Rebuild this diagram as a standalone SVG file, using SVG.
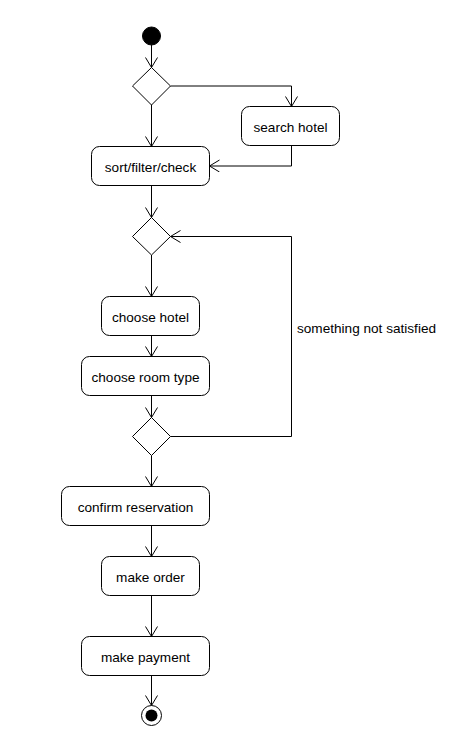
<svg xmlns="http://www.w3.org/2000/svg" width="454" height="749" viewBox="0 0 454 749">
<style>
.act{fill:#fff;stroke:#000;stroke-width:1}
.dec{fill:#fff;stroke:#000;stroke-width:1}
.lbl{font-family:"Liberation Sans",Arial,sans-serif;font-size:13.6px;fill:#000;text-anchor:middle}
.edge{fill:none;stroke:#000;stroke-width:1;marker-end:url(#open)}
</style>
<defs>
<marker id="open" markerWidth="14" markerHeight="14" refX="11" refY="6" orient="auto" markerUnits="userSpaceOnUse">
<path d="M1 0 L11 6 L1 12" fill="none" stroke="#000" stroke-width="1"/>
</marker>
</defs>
<rect width="454" height="749" fill="#fff"/>
<g id="connectors">
<path class="edge" d="M151.5 45 V67.5"/>
<path class="edge" d="M170.5 86 H291.5 V106.5"/>
<path class="edge" d="M151.5 105 V146.5"/>
<path class="edge" d="M291.5 145.5 V166 H209.5"/>
<path class="edge" d="M151.5 185.5 V217.5"/>
<path class="edge" d="M151.5 255 V296.5"/>
<path class="edge" d="M151.5 335.5 V356.5"/>
<path class="edge" d="M151.5 395.5 V417.5"/>
<path class="edge" d="M170.5 436.5 H291.5 V236.5 H170.5"/>
<path class="edge" d="M151.5 455.5 V486.5"/>
<path class="edge" d="M151.5 525.5 V556.5"/>
<path class="edge" d="M151.5 595.5 V636.5"/>
<path class="edge" d="M151.5 675.5 V705.5"/>
<text x="297" y="333" class="lbl" style="text-anchor:start">something not satisfied</text>
</g>
<g id="start"><circle cx="151.5" cy="36" r="9" fill="#000" stroke="#000"/></g>
<g id="decision1"><path class="dec" d="M151.5 67.5 L170.5 86 L151.5 105 L132.5 86 Z"/></g>
<g id="search"><rect class="act" x="241.5" y="106.5" width="98" height="39" rx="8"/><text class="lbl" x="290.5" y="131.5">search hotel</text></g>
<g id="sort"><rect class="act" x="91.5" y="146.5" width="118" height="39" rx="8"/><text class="lbl" x="150.5" y="171.5">sort/filter/check</text></g>
<g id="decision2"><path class="dec" d="M151.5 217.5 L170.5 236.5 L151.5 255 L132.5 236.5 Z"/></g>
<g id="chooseHotel"><rect class="act" x="101.5" y="296.5" width="98" height="39" rx="8"/><text class="lbl" x="150.5" y="321.5">choose hotel</text></g>
<g id="chooseRoom"><rect class="act" x="81.5" y="356.5" width="128" height="39" rx="8"/><text class="lbl" x="145.5" y="381.5">choose room type</text></g>
<g id="decision3"><path class="dec" d="M151.5 417.5 L170.5 436.5 L151.5 455.5 L132.5 436.5 Z"/></g>
<g id="confirm"><rect class="act" x="61.5" y="486.5" width="148" height="39" rx="8"/><text class="lbl" x="135.5" y="511.5">confirm reservation</text></g>
<g id="order"><rect class="act" x="101.5" y="556.5" width="98" height="39" rx="8"/><text class="lbl" x="150.5" y="581.5">make order</text></g>
<g id="payment"><rect class="act" x="81.5" y="636.5" width="128" height="39" rx="8"/><text class="lbl" x="145.5" y="661.5">make payment</text></g>
<g id="end"><circle cx="151.5" cy="715.5" r="10" fill="#fff" stroke="#000"/><circle cx="151.5" cy="715.5" r="6" fill="#000"/></g>
</svg>
